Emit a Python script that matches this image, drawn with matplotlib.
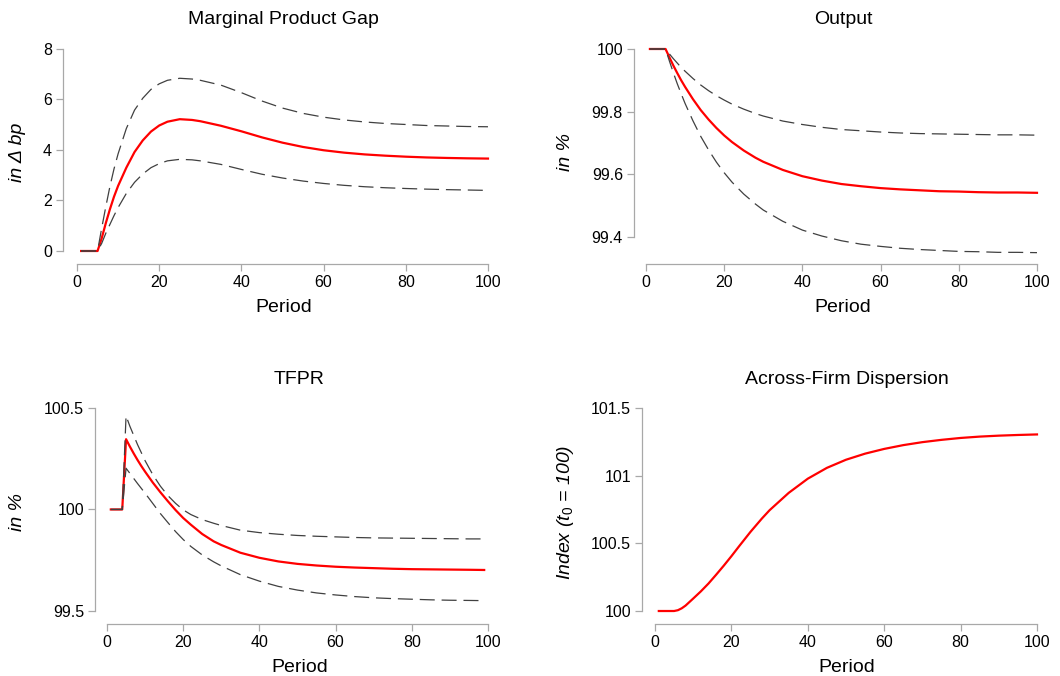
import matplotlib
matplotlib.use("Agg")
import matplotlib.pyplot as plt

plt.rcParams["font.family"] = ["Liberation Sans", "DejaVu Sans"]
plt.rcParams["mathtext.fontset"] = "custom"
plt.rcParams["mathtext.rm"] = "Liberation Sans"
plt.rcParams["mathtext.it"] = "Liberation Sans:italic"

periods = [1, 2, 3, 4, 5, 6, 7, 8, 9, 10, 12, 14, 16, 18, 20, 22, 25, 28, 30,
           35, 40, 45, 50, 55, 60, 65, 70, 75, 80, 85, 90, 95, 100]
periods_tfpr = periods[:-1] + [99]

mpg_mid = [0, 0, 0, 0, 0, 0.5, 1.1, 1.65, 2.15, 2.58, 3.3, 3.92, 4.38, 4.73, 4.97, 5.12, 5.22,
           5.19, 5.14, 4.96, 4.74, 4.50, 4.29, 4.12, 3.99, 3.895, 3.825, 3.775, 3.735, 3.705, 3.685, 3.67, 3.66]
mpg_hi = [0, 0, 0, 0, 0, 0.9, 1.75, 2.55, 3.25, 3.85, 4.85, 5.58, 6.05, 6.40, 6.62, 6.76, 6.84,
          6.81, 6.76, 6.57, 6.27, 5.94, 5.66, 5.45, 5.30, 5.19, 5.11, 5.05, 5.01, 4.97, 4.95, 4.93, 4.92]
mpg_lo = [0, 0, 0, 0, 0, 0.3, 0.7, 1.05, 1.4, 1.72, 2.28, 2.72, 3.05, 3.3, 3.46, 3.57, 3.63,
          3.61, 3.57, 3.43, 3.23, 3.04, 2.89, 2.77, 2.675, 2.60, 2.545, 2.505, 2.475, 2.45, 2.43, 2.415, 2.40]

out_mid = [100, 100, 100, 100, 100, 99.973, 99.947, 99.923, 99.900, 99.879, 99.840, 99.805, 99.775,
           99.748, 99.724, 99.703, 99.676, 99.653, 99.640, 99.614, 99.594, 99.580, 99.569, 99.562,
           99.556, 99.552, 99.549, 99.546, 99.545, 99.543, 99.542, 99.542, 99.541]
out_hi = [100, 100, 100, 100, 100, 99.984, 99.969, 99.955, 99.941, 99.929, 99.906, 99.885, 99.867,
          99.851, 99.837, 99.824, 99.808, 99.794, 99.786, 99.770, 99.759, 99.750, 99.743, 99.739,
          99.735, 99.732, 99.730, 99.729, 99.728, 99.727, 99.726, 99.726, 99.725]
out_lo = [100, 100, 100, 100, 100, 99.961, 99.924, 99.889, 99.857, 99.826, 99.771, 99.721, 99.678,
          99.639, 99.605, 99.575, 99.537, 99.505, 99.486, 99.450, 99.422, 99.403, 99.388, 99.377,
          99.370, 99.364, 99.360, 99.357, 99.354, 99.353, 99.351, 99.351, 99.350]

tfpr_mid = [100, 100, 100, 100, 100.346, 100.31, 100.276, 100.244, 100.214, 100.186, 100.133, 100.085,
            100.04, 99.997, 99.958, 99.925, 99.879, 99.843, 99.825, 99.787, 99.762, 99.744, 99.732,
            99.724, 99.718, 99.714, 99.711, 99.708, 99.706, 99.705, 99.704, 99.703, 99.702]
tfpr_hi = [100, 100, 100, 100, 100.461, 100.41, 100.365, 100.32, 100.28, 100.24, 100.172, 100.115,
           100.068, 100.03, 99.998, 99.975, 99.95, 99.932, 99.921, 99.898, 99.886, 99.878, 99.872,
           99.868, 99.865, 99.862, 99.860, 99.859, 99.858, 99.857, 99.856, 99.855, 99.855]
tfpr_lo = [100, 100, 100, 100, 100.203, 100.178, 100.153, 100.128, 100.104, 100.08, 100.03, 99.98,
           99.935, 99.891, 99.852, 99.818, 99.776, 99.742, 99.722, 99.679, 99.647, 99.621, 99.603,
           99.589, 99.579, 99.571, 99.565, 99.561, 99.558, 99.555, 99.553, 99.552, 99.551]

disp = [100, 100, 100, 100, 100, 100.006, 100.02, 100.04, 100.066, 100.092, 100.145, 100.203, 100.268,
        100.335, 100.405, 100.478, 100.585, 100.684, 100.745, 100.873, 100.978, 101.058, 101.118, 101.163,
        101.198, 101.226, 101.248, 101.265, 101.279, 101.289, 101.296, 101.301, 101.305]

W, H = 1060, 676
fig = plt.figure(figsize=(W / 100, H / 100), dpi=100)
axis_grey = "#a8a8a8"


def panel(box, xlim, ylim, yticks, yticklabels, title, ylabel, ylabel_x):
    left, right, top, bottom = box
    ax = fig.add_axes([left / W, 1 - bottom / H, (right - left) / W, (bottom - top) / H])
    ax.set_xlim(xlim)
    ax.set_ylim(ylim)
    for s in ["top", "right"]:
        ax.spines[s].set_visible(False)
    for s in ["left", "bottom"]:
        ax.spines[s].set_color(axis_grey)
        ax.spines[s].set_linewidth(0.9)
    ax.spines["bottom"].set_bounds(0, 100)
    ax.spines["left"].set_bounds(yticks[0], yticks[-1])
    ax.set_xticks([0, 20, 40, 60, 80, 100])
    ax.set_yticks(yticks)
    ax.set_yticklabels(yticklabels)
    ax.tick_params(length=5, width=0.9, color=axis_grey, labelsize=11.5, pad=3)
    ax.patch.set_alpha(0)
    cx = (left + right) / 2
    fig.text(cx / W, 1 - (top - 20) / H, title, ha="center", va="center", fontsize=14)
    fig.text(cx / W, 1 - (bottom + 43) / H, "Period", ha="center", va="center", fontsize=14)
    fig.text(ylabel_x / W, 1 - (top + bottom) / 2 / H, ylabel, ha="center", va="center",
             rotation=90, fontsize=14, style="italic")
    return ax


red = "#ff0000"
dash_col = "#404040"
dash = (12, 5.5)

ax1 = panel((63, 504, 40, 264), (-3.41, 103.9), (-0.515, 8.356), [0, 2, 4, 6, 8],
            ["0", "2", "4", "6", "8"], "Marginal Product Gap", "in \u0394 bp", 18)
ax1.plot(periods, mpg_mid, color=red, lw=1.6)
ax1.plot(periods, mpg_hi, color=dash_col, lw=0.9, dashes=dash)
ax1.plot(periods, mpg_lo, color=dash_col, lw=0.9, dashes=dash)

ax2 = panel((634, 1052, 40, 264), (-3.07, 103.84), (99.3138, 100.0287), [99.4, 99.6, 99.8, 100],
            ["99.4", "99.6", "99.8", "100"], "Output", "in %", 565)
ax2.plot(periods, out_mid, color=red, lw=1.6)
ax2.plot(periods, out_hi, color=dash_col, lw=0.9, dashes=dash)
ax2.plot(periods, out_lo, color=dash_col, lw=0.9, dashes=dash)

ax3 = panel((95, 504, 400, 624), (-3.15, 104.2), (99.436, 100.539), [99.5, 100, 100.5],
            ["99.5", "100", "100.5"], "TFPR", "in %", 18)
ax3.plot(periods_tfpr, tfpr_mid, color=red, lw=1.6)
ax3.plot(periods_tfpr, tfpr_hi, color=dash_col, lw=0.9, dashes=dash)
ax3.plot(periods_tfpr, tfpr_lo, color=dash_col, lw=0.9, dashes=dash)

ax4 = panel((642, 1052, 400, 624), (-3.40, 103.93), (99.904, 101.5595), [100, 100.5, 101, 101.5],
            ["100", "100.5", "101", "101.5"], "Across-Firm Dispersion", "Index ($t_0$ = 100)", 565)
ax4.plot(periods, disp, color=red, lw=1.6)

fig.savefig("out.png", dpi=100)
